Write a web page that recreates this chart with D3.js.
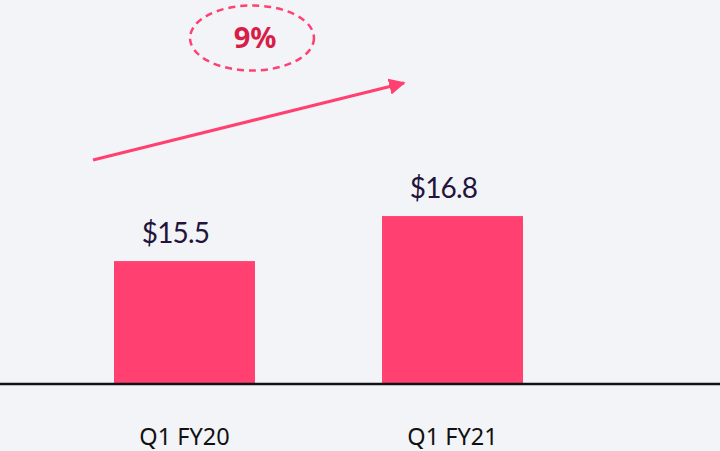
<!DOCTYPE html>
<meta charset="utf-8">
<html>
<head>
    <script src="https://d3js.org/d3.v7.min.js"></script>
    <style>
        body { margin: 0; background-color: #f3f4f8; }
        svg { display: block; }
    </style>
</head>
<body>
    <div id="chart"></div>
    <script>
        // data
        var categories = ["Q1 FY20", "Q1 FY21"];
        var revenue = [15.5, 16.8];
        var valueLabels = ["$15.5", "$16.8"];
        var growthLabel = "9%";

        var width = 720, height = 451, baseY = 384;

        var svg = d3.select("#chart")
            .append("svg")
            .attr("width", width)
            .attr("height", height);

        var x = d3.scaleBand()
            .domain(categories)
            .range([114, 523])
            .paddingInner(0.474)
            .paddingOuter(0);

        var y = d3.scaleLinear()
            .domain([11.95, 22])
            .range([baseY, 36]);

        // bars
        svg.append("g")
            .selectAll("rect")
            .data(revenue)
            .enter()
            .append("rect")
            .attr("x", function (d, i) { return x(categories[i]); })
            .attr("y", function (d) { return y(d); })
            .attr("width", x.bandwidth())
            .attr("height", function (d) { return baseY + 1 - y(d); })
            .style("fill", "#ff4070");

        // baseline
        svg.append("line")
            .attr("x1", 0).attr("x2", width)
            .attr("y1", baseY).attr("y2", baseY)
            .style("stroke", "#111")
            .style("stroke-width", 2.5);

        // value labels
        svg.append("g")
            .selectAll("text")
            .data(revenue)
            .enter()
            .append("text")
            .attr("x", function (d, i) { return x(categories[i]) + x.bandwidth() / 2 - 9; })
            .attr("y", function (d) { return y(d) - 18; })
            .attr("text-anchor", "middle")
            .style("font-family", "Lato, sans-serif")
            .style("font-size", "28px")
            .style("letter-spacing", "-0.8px")
            .style("fill", "#22143a")
            .text(function (d, i) { return valueLabels[i]; });

        // category axis
        var axis = svg.append("g")
            .attr("transform", "translate(0," + baseY + ")")
            .call(d3.axisBottom(x).tickSize(0).tickPadding(0));
        axis.select(".domain").remove();
        axis.selectAll("text")
            .attr("dy", 0)
            .attr("y", 61)
            .style("font-family", "'Noto Sans', sans-serif")
            .style("font-size", "23.5px")
            .style("fill", "#111");

        // growth arrow
        svg.append("defs").append("marker")
            .attr("id", "head")
            .attr("viewBox", "0 0 10 10")
            .attr("refX", 9).attr("refY", 5)
            .attr("markerWidth", 5.5).attr("markerHeight", 5.5)
            .attr("orient", "auto")
            .append("path")
            .attr("d", "M0,0 L10,5 L0,10 z")
            .style("fill", "#ff4070");

        svg.append("line")
            .attr("x1", 93).attr("y1", 160)
            .attr("x2", 404).attr("y2", 83)
            .style("stroke", "#ff4070")
            .style("stroke-width", 3)
            .attr("marker-end", "url(#head)");

        // growth bubble
        svg.append("ellipse")
            .attr("cx", 252).attr("cy", 38)
            .attr("rx", 62).attr("ry", 32.5)
            .style("fill", "none")
            .style("stroke", "#ff4070")
            .style("stroke-width", 2.5)
            .style("stroke-dasharray", "7,5");

        svg.append("text")
            .attr("x", 255).attr("y", 48)
            .attr("text-anchor", "middle")
            .style("font-family", "'Noto Sans', sans-serif")
            .style("font-weight", "bold")
            .style("font-size", "29px")
            .style("fill", "#d81e48")
            .text(growthLabel);
    </script>
</body>
</html>
